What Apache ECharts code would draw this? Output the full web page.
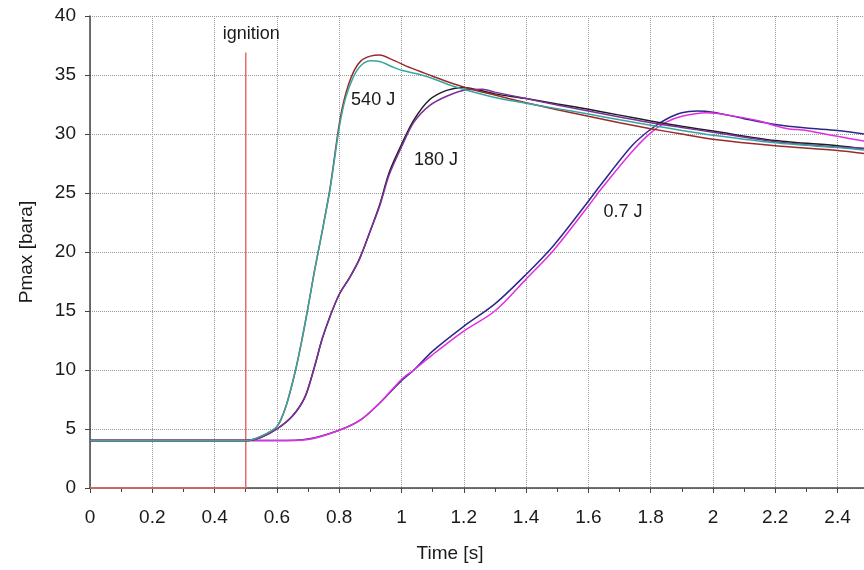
<!DOCTYPE html>
<html>
<head>
<meta charset="utf-8">
<script src="https://cdn.jsdelivr.net/npm/echarts@6/dist/echarts.min.js"></script>
<style>
  html, body { margin: 0; padding: 0; background: #fff; }
  #chart { width: 864px; height: 570px; }
</style>
</head>
<body>
<div id="chart"></div>
<script>
// Pmax curves, [time s, pressure bara]
var red540 = [[0,4.02],[0.5,4.02],[0.55,4.4],[0.6,5.2],[0.63,7.0],[0.66,10.0],[0.68,12.5],[0.70,15.3],[0.72,18.3],[0.74,21.0],[0.77,25.3],[0.80,30.8],[0.82,33.3],[0.845,35.2],[0.87,36.2],[0.90,36.6],[0.93,36.7],[0.97,36.3],[1.03,35.6],[1.1,34.9],[1.15,34.4],[1.21,33.9],[1.3,33.3],[1.4,32.65],[1.5,32.05],[1.6,31.5],[1.7,30.95],[1.8,30.45],[1.9,30.0],[2.0,29.55],[2.2,29.0],[2.4,28.6],[2.485,28.35]];
var teal540 = [[0,4.02],[0.5,4.02],[0.55,4.4],[0.6,5.2],[0.63,7.0],[0.66,10.0],[0.68,12.5],[0.70,15.3],[0.72,18.3],[0.74,21.0],[0.77,25.2],[0.80,30.5],[0.82,33.0],[0.845,34.8],[0.87,35.8],[0.90,36.2],[0.93,36.15],[0.97,35.7],[1.0,35.4],[1.05,35.1],[1.1,34.7],[1.15,34.2],[1.21,33.7],[1.3,33.1],[1.4,32.6],[1.5,32.15],[1.6,31.7],[1.7,31.2],[1.8,30.75],[1.9,30.3],[2.0,29.9],[2.2,29.25],[2.4,28.85],[2.485,28.65]];
var black180 = [[0,4.02],[0.5,4.02],[0.55,4.3],[0.6,5.0],[0.65,6.1],[0.69,7.7],[0.72,10.2],[0.745,12.6],[0.77,14.5],[0.80,16.4],[0.835,17.9],[0.865,19.4],[0.90,21.8],[0.93,24.0],[0.96,26.7],[1.0,29.1],[1.04,31.2],[1.09,32.9],[1.145,33.7],[1.2,33.95],[1.25,33.7],[1.3,33.4],[1.4,33.0],[1.5,32.55],[1.6,32.1],[1.7,31.6],[1.8,31.1],[1.9,30.65],[2.0,30.25],[2.2,29.45],[2.4,29.0],[2.485,28.75]];
var purple180 = [[0,4.02],[0.5,4.02],[0.55,4.3],[0.6,5.0],[0.65,6.1],[0.69,7.7],[0.72,10.2],[0.745,12.6],[0.77,14.5],[0.80,16.4],[0.835,17.9],[0.865,19.4],[0.90,21.8],[0.93,23.9],[0.96,26.5],[1.0,28.9],[1.04,31.0],[1.09,32.4],[1.145,33.2],[1.21,33.75],[1.26,33.8],[1.3,33.55],[1.4,33.0],[1.5,32.45],[1.6,31.95],[1.7,31.45],[1.8,30.95],[1.9,30.55],[2.0,30.15],[2.2,29.35],[2.4,28.9],[2.485,28.8]];
var navy07 = [[0,4.02],[0.5,4.02],[0.6,4.02],[0.7,4.15],[0.8,4.9],[0.87,5.8],[0.93,7.2],[1.0,9.1],[1.04,10.0],[1.1,11.6],[1.2,13.7],[1.3,15.6],[1.4,18.1],[1.49,20.6],[1.6,24.3],[1.64,25.7],[1.74,29.0],[1.8,30.4],[1.85,31.25],[1.9,31.8],[1.95,31.95],[2.0,31.85],[2.1,31.3],[2.2,30.8],[2.3,30.5],[2.4,30.3],[2.485,30.0]];
var magenta07 = [[0,4.02],[0.5,4.02],[0.6,4.02],[0.7,4.12],[0.8,4.9],[0.87,5.8],[0.93,7.2],[1.0,9.2],[1.04,10.0],[1.1,11.3],[1.2,13.3],[1.3,15.0],[1.4,17.7],[1.49,20.2],[1.6,23.9],[1.64,25.3],[1.74,28.5],[1.8,30.1],[1.85,31.0],[1.9,31.5],[1.98,31.8],[2.05,31.6],[2.15,31.1],[2.2,30.7],[2.24,30.45],[2.3,30.3],[2.4,29.8],[2.485,29.4]];
var ignition = [[0,0],[0.5,0],[0.5,36.9]];

// curve labels, [time, pressure, text]
var curveLabels = [[0.909,32.9,'540 J'],[1.111,27.8,'180 J'],[1.711,23.4,'0.7 J'],[0.518,38.5,'ignition']];

var font = "'Liberation Sans', Arial, sans-serif";

function curve(name, data, color) {
    return {
        name: name,
        type: 'line',
        data: data,
        smooth: 0.3,
        symbol: 'none',
        lineStyle: { color: color, width: 1.5 }
    };
}

var chart = echarts.init(document.getElementById('chart'));
var option = {
    animation: false,
    grid: { left: 90, right: 0, top: 16, bottom: 82 },
    xAxis: {
        type: 'value',
        min: 0,
        max: 2.485,
        interval: 0.2,
        name: 'Time [s]',
        nameLocation: 'middle',
        nameGap: 56,
        nameTextStyle: { fontFamily: font, fontSize: 19, color: '#1a1a1a', padding: [0, 54, 0, 0] },
        axisLine: { lineStyle: { color: '#444', width: 1.5 } },
        axisTick: { show: true, length: 5, lineStyle: { color: '#444' } },
        minorTick: { show: true, splitNumber: 2, length: 4, lineStyle: { color: '#444' } },
        axisLabel: { fontFamily: font, fontSize: 19, color: '#1a1a1a', margin: 20, showMaxLabel: false },
        splitLine: { show: true, lineStyle: { color: '#999', type: 'dotted' } }
    },
    yAxis: {
        type: 'value',
        min: 0,
        max: 40,
        interval: 5,
        name: 'Pmax [bara]',
        nameLocation: 'middle',
        nameGap: 54,
        nameTextStyle: { fontFamily: font, fontSize: 19, color: '#1a1a1a' },
        axisLine: { show: true, lineStyle: { color: '#444', width: 1.5 } },
        axisTick: { show: true, length: 5, lineStyle: { color: '#444' } },
        axisLabel: { fontFamily: font, fontSize: 19, color: '#1a1a1a', margin: 14 },
        splitLine: { show: true, lineStyle: { color: '#999', type: 'dotted' } }
    },
    series: [
        {
            name: 'ignition',
            type: 'line',
            data: ignition,
            symbol: 'none',
            clip: false,
            lineStyle: { color: '#e86a6a', width: 1.5 }
        },
        curve('0.7 J a', navy07, '#2a2a86'),
        curve('0.7 J b', magenta07, '#e22ee2'),
        curve('180 J a', black180, '#1e1e1e'),
        curve('180 J b', purple180, '#7d2f9c'),
        curve('540 J a', red540, '#9c2a2a'),
        curve('540 J b', teal540, '#36a7a0'),
        {
            name: 'labels',
            type: 'scatter',
            symbolSize: 0,
            itemStyle: { opacity: 1 },
            data: curveLabels.map(function (d) { return { value: [d[0], d[1]], text: d[2] }; }),
            label: {
                show: true,
                position: 'inside',
                fontFamily: font,
                fontSize: 18,
                color: '#1a1a1a',
                opacity: 1,
                formatter: function (p) { return p.data.text; }
            },
            z: 10
        }
    ]
};
chart.setOption(option);
</script>
</body>
</html>
